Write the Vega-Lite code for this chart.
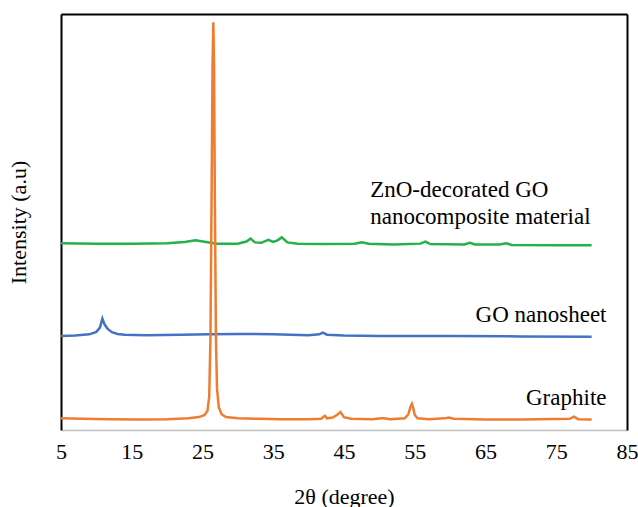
{
  "$schema": "https://vega.github.io/schema/vega-lite/v6.json",
  "width": 566,
  "height": 416,
  "autosize": {"type": "none"},
  "padding": {"left": 61, "top": 14, "right": 11, "bottom": 77},
  "background": "white",
  "config": {
    "view": {"stroke": null},
    "font": "Liberation Serif",
    "text": {"font": "Liberation Serif"},
    "axis": {"grid": false, "ticks": false, "labelFont": "Liberation Serif", "titleFont": "Liberation Serif", "labelColor": "black", "titleColor": "black", "titleFontWeight": "normal"}
  },
  "datasets": {
    "graphite": [
      {"x": 5, "y": 2.8}, {"x": 8, "y": 2.7}, {"x": 12, "y": 2.6}, {"x": 16, "y": 2.5}, {"x": 20, "y": 2.6},
      {"x": 23, "y": 2.8}, {"x": 24.5, "y": 3.1}, {"x": 25.3, "y": 3.6}, {"x": 25.7, "y": 4.6}, {"x": 25.95, "y": 8},
      {"x": 26.12, "y": 22}, {"x": 26.28, "y": 55}, {"x": 26.42, "y": 88}, {"x": 26.53, "y": 98}, {"x": 26.63, "y": 88},
      {"x": 26.75, "y": 55}, {"x": 26.9, "y": 22}, {"x": 27.05, "y": 10}, {"x": 27.3, "y": 5.5}, {"x": 27.7, "y": 3.8},
      {"x": 28.3, "y": 3.1}, {"x": 30, "y": 2.8}, {"x": 33, "y": 2.7}, {"x": 36, "y": 2.6}, {"x": 40, "y": 2.6},
      {"x": 41.8, "y": 2.7}, {"x": 42.1, "y": 3.2}, {"x": 42.3, "y": 3.4}, {"x": 42.6, "y": 2.8}, {"x": 43.4, "y": 3.0}, {"x": 44.0, "y": 3.6},
      {"x": 44.5, "y": 4.3}, {"x": 45.0, "y": 3.1}, {"x": 46, "y": 2.7}, {"x": 49, "y": 2.6}, {"x": 50.3, "y": 2.8}, {"x": 50.7, "y": 2.8},
      {"x": 51.5, "y": 2.6}, {"x": 53.6, "y": 2.8}, {"x": 54.1, "y": 3.8}, {"x": 54.4, "y": 5.6}, {"x": 54.6, "y": 6.3}, {"x": 54.8, "y": 5.2}, {"x": 55.0, "y": 3.6},
      {"x": 55.4, "y": 2.8}, {"x": 57, "y": 2.6}, {"x": 59.2, "y": 2.8}, {"x": 59.8, "y": 3.0}, {"x": 60.5, "y": 2.7},
      {"x": 65, "y": 2.5}, {"x": 70, "y": 2.5}, {"x": 76.9, "y": 2.7}, {"x": 77.5, "y": 3.2}, {"x": 78.1, "y": 2.6},
      {"x": 80, "y": 2.5}
    ],
    "go": [
      {"x": 5, "y": 22.6}, {"x": 7, "y": 22.7}, {"x": 9, "y": 23.0}, {"x": 10, "y": 23.6}, {"x": 10.5, "y": 24.6},
      {"x": 10.85, "y": 26.8}, {"x": 11.15, "y": 25.4}, {"x": 11.6, "y": 24.3}, {"x": 12.2, "y": 23.5}, {"x": 13, "y": 23.1},
      {"x": 14, "y": 22.9}, {"x": 17, "y": 22.8}, {"x": 22, "y": 22.9}, {"x": 26, "y": 23.0}, {"x": 30, "y": 23.1},
      {"x": 35, "y": 23.0}, {"x": 40, "y": 22.8}, {"x": 41.5, "y": 23.0}, {"x": 42.0, "y": 23.4}, {"x": 42.6, "y": 22.9},
      {"x": 45, "y": 22.7}, {"x": 50, "y": 22.6}, {"x": 60, "y": 22.6}, {"x": 70, "y": 22.5}, {"x": 80, "y": 22.4}
    ],
    "zno": [
      {"x": 5, "y": 44.9}, {"x": 10, "y": 44.8}, {"x": 15, "y": 44.8}, {"x": 20, "y": 44.9}, {"x": 22.5, "y": 45.2},
      {"x": 24, "y": 45.6}, {"x": 25.5, "y": 45.2}, {"x": 27, "y": 44.8}, {"x": 30, "y": 44.8}, {"x": 31.2, "y": 45.3},
      {"x": 31.8, "y": 46.0}, {"x": 32.4, "y": 45.1}, {"x": 33.3, "y": 45.0}, {"x": 34.3, "y": 45.7}, {"x": 35.0, "y": 45.2},
      {"x": 35.6, "y": 45.6}, {"x": 36.2, "y": 46.3}, {"x": 37.0, "y": 45.1}, {"x": 38.5, "y": 44.8}, {"x": 42, "y": 44.7},
      {"x": 46.5, "y": 44.8}, {"x": 47.5, "y": 45.1}, {"x": 48.5, "y": 44.8}, {"x": 52, "y": 44.6}, {"x": 55.8, "y": 44.8},
      {"x": 56.5, "y": 45.3}, {"x": 57.2, "y": 44.7}, {"x": 62, "y": 44.6}, {"x": 62.8, "y": 45.0}, {"x": 63.5, "y": 44.6},
      {"x": 67, "y": 44.6}, {"x": 67.9, "y": 44.9}, {"x": 68.7, "y": 44.5}, {"x": 75, "y": 44.4}, {"x": 80, "y": 44.4}
    ],
    "labelsLeft": [
      {"x": 48.7, "y": 56.0, "text": "ZnO-decorated GO"},
      {"x": 48.7, "y": 49.5, "text": "nanocomposite material"}
    ],
    "labelsRight": [
      {"x": 82.1, "y": 26.0, "text": "GO nanosheet"},
      {"x": 82.1, "y": 6.0, "text": "Graphite"}
    ]
  },
  "resolve": {"axis": {"x": "independent", "y": "independent"}},
  "layer": [
    {
      "data": {"name": "zno"},
      "mark": {"type": "line", "color": "#25B14A", "strokeWidth": 2.5},
      "encoding": {
        "x": {"field": "x", "type": "quantitative", "scale": {"domain": [5, 85], "nice": false},
          "axis": {"orient": "bottom", "values": [5, 15, 25, 35, 45, 55, 65, 75, 85], "title": "2θ (degree)", "labelFontSize": 22, "titleFontSize": 22, "labelPadding": 11, "titlePadding": 24, "domainColor": "#BFBFBF", "domainWidth": 1.5, "labelFlush": false}},
        "y": {"field": "y", "type": "quantitative", "scale": {"domain": [0, 100], "nice": false},
          "axis": {"orient": "left", "labels": false, "title": "Intensity (a.u)", "titleFontSize": 22, "titlePadding": 31, "domainColor": "black", "domainWidth": 2}}
      }
    },
    {
      "data": {"name": "go"},
      "mark": {"type": "line", "color": "#4472C4", "strokeWidth": 2.5},
      "encoding": {
        "x": {"field": "x", "type": "quantitative", "scale": {"domain": [5, 85], "nice": false},
          "axis": {"orient": "top", "labels": false, "title": null, "domainColor": "black", "domainWidth": 2}},
        "y": {"field": "y", "type": "quantitative", "scale": {"domain": [0, 100], "nice": false},
          "axis": {"orient": "right", "labels": false, "title": null, "domainColor": "black", "domainWidth": 2}}
      }
    },
    {
      "data": {"name": "graphite"},
      "mark": {"type": "line", "color": "#ED7D31", "strokeWidth": 2.5},
      "encoding": {
        "x": {"field": "x", "type": "quantitative", "axis": null},
        "y": {"field": "y", "type": "quantitative", "axis": null}
      }
    },
    {
      "data": {"name": "labelsLeft"},
      "mark": {"type": "text", "font": "Liberation Serif", "fontSize": 23, "align": "left", "baseline": "alphabetic", "color": "black"},
      "encoding": {
        "x": {"field": "x", "type": "quantitative", "axis": null},
        "y": {"field": "y", "type": "quantitative", "axis": null},
        "text": {"field": "text"}
      }
    },
    {
      "data": {"name": "labelsRight"},
      "mark": {"type": "text", "font": "Liberation Serif", "fontSize": 23, "align": "right", "baseline": "alphabetic", "color": "black"},
      "encoding": {
        "x": {"field": "x", "type": "quantitative", "axis": null},
        "y": {"field": "y", "type": "quantitative", "axis": null},
        "text": {"field": "text"}
      }
    }
  ]
}
